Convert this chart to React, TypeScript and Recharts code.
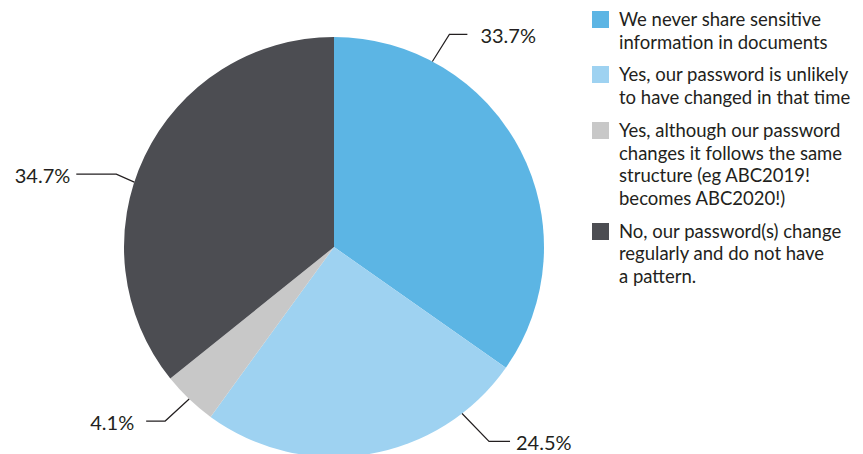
import React from 'react';
import { PieChart, Pie, Cell, Legend } from 'recharts';

const categories = [
    'We never share sensitive\ninformation in documents',
    'Yes, our password is unlikely\nto have changed in that time',
    'Yes, although our password\nchanges it follows the same\nstructure (eg ABC2019!\nbecomes ABC2020!)',
    'No, our password(s) change\nregularly and do not have\na pattern.',
];
const shares = [33.7, 24.5, 4.1, 34.7];
const colors = ['#5CB5E4', '#9ED2F1', '#C8C8C8', '#4C4D52'];

const data = categories.map((name, i) => ({ name, value: shares[i] }));

// label leader lines: angle shift from slice middle, elbow offset, horizontal run
const leaders = [
    { shift: 34.6, ex: 17, ey: -27, run: 18, gap: 13 },
    { shift: 28.1, ex: 27, ey: 28, run: 21, gap: 6 },
    { shift: 0, ex: -24, ey: 22, run: -19, gap: 12 },
    { shift: 7.6, ex: -18, ey: -8, run: -40, gap: 6 },
];

const RAD = Math.PI / 180;
const font = 'Lato, "Open Sans", sans-serif';

const renderLabel = (props: any) => {
    const { cx, cy, midAngle, outerRadius, index, value } = props;
    const l = leaders[index];
    const a = (midAngle + l.shift) * RAD;
    const x0 = cx + outerRadius * Math.cos(-a);
    const y0 = cy + outerRadius * Math.sin(-a);
    const x1 = x0 + l.ex;
    const y1 = y0 + l.ey;
    const x2 = x1 + l.run;
    const right = l.run > 0;
    return (
        <g>
            <polyline
                points={`${x0},${y0} ${x1},${y1} ${x2},${y1}`}
                fill="none"
                stroke="#231F20"
                strokeWidth={1.2}
            />
            <text
                x={right ? x2 + l.gap : x2 - l.gap}
                y={y1 + 1}
                textAnchor={right ? 'start' : 'end'}
                dominantBaseline="central"
                fill="#231F20"
                fontSize={20}
                fontFamily={font}
            >
                {Number(value).toFixed(1)}%
            </text>
        </g>
    );
};

const renderLegend = () => (
    <div style={{ fontFamily: font, fontSize: 18.5, lineHeight: '22.7px', color: '#231F20' }}>
        {categories.map((c, i) => (
            <div key={i} style={{ display: 'flex', alignItems: 'flex-start', marginBottom: 10 }}>
                <div
                    style={{
                        width: 17,
                        height: 17,
                        background: colors[i],
                        flex: 'none',
                        marginTop: 3,
                        marginRight: 10,
                    }}
                />
                <div style={{ whiteSpace: 'pre', textAlign: 'left' }}>{c}</div>
            </div>
        ))}
    </div>
);

const App = () => {
    return (
        <div style={{ position: 'absolute', left: 0, top: 0, width: 863, height: 454, background: '#fff', overflow: 'hidden' }}>
            <PieChart width={863} height={454} margin={{ top: 0, right: 0, bottom: 0, left: 0 }}>
                <Pie
                    data={data}
                    dataKey="value"
                    nameKey="name"
                    cx={334}
                    cy={247}
                    outerRadius={210}
                    startAngle={90}
                    endAngle={-270}
                    stroke="none"
                    label={renderLabel}
                    labelLine={false}
                    isAnimationActive={false}
                >
                    {data.map((d, i) => (
                        <Cell key={i} fill={colors[i]} />
                    ))}
                </Pie>
                <Legend
                    content={renderLegend}
                    wrapperStyle={{ position: 'absolute', left: 592, top: 8, width: 271 }}
                />
            </PieChart>
        </div>
    );
};

export default App;
